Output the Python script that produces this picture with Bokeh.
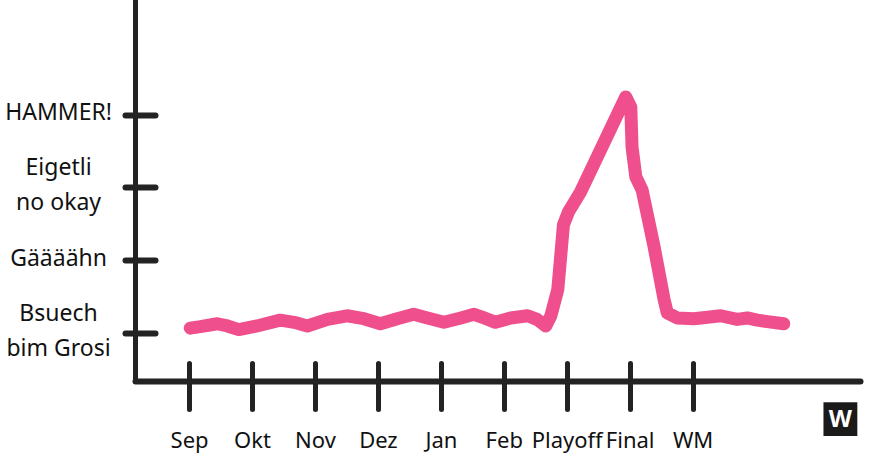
from bokeh.plotting import figure
from bokeh.models import FixedTicker, Range1d, LinearAxis
from bokeh.layouts import row
from bokeh.core.properties import value
from bokeh.embed import file_html
from bokeh.resources import INLINE

# categories (x) and mood levels (y)
months = ["Sep", "Okt", "Nov", "Dez", "Jan", "Feb", "Playoff", "Final", "WM"]
levels = ["Bsuech\nbim Grosi", "Gäääähn", "Eigetli\nno okay", "HAMMER!"]

# hand-drawn mood line: x in month index, y in mood level
mood_x = [0.01, 0.17, 0.44, 0.60, 0.78, 1.07, 1.44, 1.66, 1.87, 2.19, 2.50, 2.77,
          3.03, 3.30, 3.56, 3.78, 4.04, 4.31, 4.52, 4.68, 4.86, 5.10, 5.37, 5.52,
          5.66, 5.74, 5.85, 5.94, 6.02, 6.21, 6.93, 7.01, 7.03, 7.09, 7.19, 7.38,
          7.54, 7.59, 7.75, 8.01, 8.23, 8.44, 8.70, 8.86, 9.02, 9.18, 9.44]
mood_y = [0.07, 0.09, 0.13, 0.10, 0.05, 0.10, 0.18, 0.15, 0.10, 0.19, 0.24, 0.20,
          0.13, 0.20, 0.26, 0.21, 0.15, 0.21, 0.26, 0.21, 0.15, 0.21, 0.24, 0.19,
          0.10, 0.24, 0.60, 1.49, 1.67, 1.94, 3.25, 3.11, 2.56, 2.15, 1.97, 1.19,
          0.46, 0.28, 0.21, 0.20, 0.22, 0.24, 0.19, 0.21, 0.18, 0.16, 0.13]

FONT = "Noto Sans"
INK = "#232323"
PINK = "#EF4F8C"
TXT = "#111111"

y_rng = Range1d(-0.664, 4.576)

# ---- left panel with the centred level labels ----
lab = figure(width=121, height=463, output_backend="svg", toolbar_location=None,
             x_range=Range1d(0, 1), y_range=y_rng, x_axis_type=None,
             y_axis_type=None, min_border_left=0, min_border_right=0,
             min_border_top=0, min_border_bottom=81)
lab.outline_line_color = None
lab.grid.visible = False
lab.text(x=[0.48] * len(levels), y=list(range(len(levels))), text=levels,
         text_font=value(FONT), text_font_size="23px", text_color=TXT,
         text_align="center", text_baseline="middle", text_line_height=1.1,
         y_offset=-4)

# ---- main chart ----
p = figure(width=752, height=463, output_backend="svg", toolbar_location=None,
           x_range=Range1d(-0.86, 10.66), y_range=y_rng,
           min_border_left=14, min_border_right=13, min_border_top=0,
           min_border_bottom=81)
p.outline_line_color = None
p.grid.visible = False

p.line(mood_x, mood_y, line_width=13, line_color=PINK, line_cap="round",
       line_join="round")

# x axis
xa = p.xaxis[0]
xa.ticker = FixedTicker(ticks=list(range(len(months))))
xa.major_label_overrides = {i: m for i, m in enumerate(months)}
xa.axis_line_width = 6
xa.axis_line_color = INK
xa.axis_line_cap = "round"
xa.major_tick_line_width = 5
xa.major_tick_line_color = INK
xa.major_tick_line_cap = "round"
xa.major_tick_in = 18
xa.major_tick_out = 28
xa.minor_tick_line_color = None
xa.major_label_standoff = 14
xa.major_label_text_font = FONT
xa.major_label_text_font_size = "22px"
xa.major_label_text_color = TXT

# y axis (labels are in the left panel)
ya = p.yaxis[0]
ya.ticker = FixedTicker(ticks=list(range(len(levels))))
ya.major_label_overrides = {i: "" for i in range(len(levels))}
ya.major_label_standoff = 0
ya.axis_line_width = 5
ya.axis_line_color = INK
ya.axis_line_cap = "round"
ya.major_tick_line_width = 6
ya.major_tick_line_color = INK
ya.major_tick_line_cap = "round"
ya.major_tick_in = 20
ya.major_tick_out = 10
ya.minor_tick_line_color = None


def bare_axis(text, size, color, standoff, style="normal"):
    return LinearAxis(ticker=FixedTicker(ticks=[10.34]),
                      major_label_overrides={10.34: text},
                      axis_line_color=None, major_tick_line_color=None,
                      minor_tick_line_color=None, major_tick_out=0,
                      major_tick_in=0, major_label_standoff=standoff,
                      major_label_text_font=FONT,
                      major_label_text_font_style=style,
                      major_label_text_font_size=size,
                      major_label_text_color=color)


# logo: dark square with a white "W", carried by bare axes below
p.add_layout(bare_axis("\u25A0", "70px", "#1a1a1a", -92), "below")
p.add_layout(bare_axis("W", "24px", "white", -63, "bold"), "below")

layout = row(lab, p)
open("out.html", "w").write(file_html(layout, INLINE))
